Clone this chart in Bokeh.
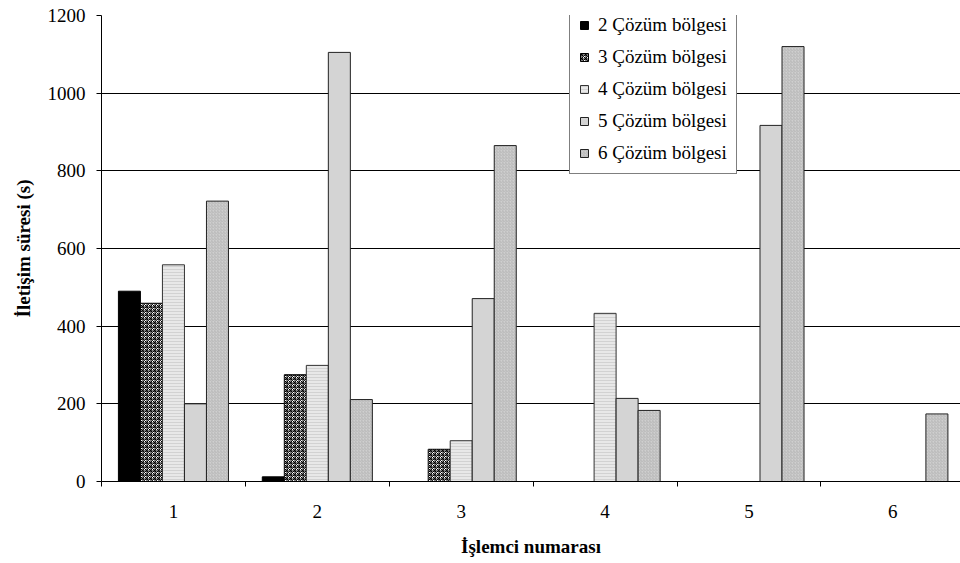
from bokeh.plotting import figure
from bokeh.models import Range1d, FixedTicker, Legend, LegendItem, ColumnDataSource
from bokeh.transform import dodge
from bokeh.embed import file_html
from bokeh.resources import INLINE

# ---- data ----
processors = [1, 2, 3, 4, 5, 6]
tick_labels = ["1", "2", "3", "4", "5", "6"]
s2 = [490, 12, 0, 0, 0, 0]
s3 = [459, 275, 83, 0, 0, 0]
s4 = [558, 299, 105, 433, 0, 0]
s5 = [200, 1105, 471, 214, 917, 0]
s6 = [722, 211, 865, 183, 1120, 174]
series_names = ["2 Çözüm bölgesi", "3 Çözüm bölgesi", "4 Çözüm bölgesi",
                "5 Çözüm bölgesi", "6 Çözüm bölgesi"]
y_ticks = [0, 200, 400, 600, 800, 1000, 1200]

src = ColumnDataSource(dict(x=processors, s2=s2, s3=s3, s4=s4, s5=s5, s6=s6))

FONT = "'Liberation Serif', serif"

p = figure(width=960, height=563, output_backend="svg", toolbar_location=None,
           x_range=Range1d(0.5, 6.47), y_range=Range1d(0, 1200),
           min_border_left=101, min_border_right=0, min_border_top=15,
           min_border_bottom=82)
p.background_fill_color = "white"
p.border_fill_color = "white"
p.outline_line_color = None

bw = 0.153
offsets = [-2 * bw, -bw, 0, bw, 2 * bw]
styles = [
    dict(fill_color="black", line_color="black"),
    dict(fill_color="white", line_color="black", hatch_pattern="criss_cross",
         hatch_color="black", hatch_scale=4, hatch_weight=1),
    dict(fill_color="#e8e8e8", line_color="#333333", hatch_pattern="horizontal_line",
         hatch_color="#d2d2d2", hatch_scale=3, hatch_weight=1),
    dict(fill_color="#d4d4d4", line_color="#222222"),
    dict(fill_color="#cfcfcf", line_color="#222222", hatch_pattern="right_diagonal_line",
         hatch_color="#b8b8b8", hatch_scale=3, hatch_weight=1),
]
fields = ["s2", "s3", "s4", "s5", "s6"]
items = []
for f, off, st, name in zip(fields, offsets, styles, series_names):
    r = p.vbar(x=dodge("x", off), top=f, width=bw, bottom=0, source=src,
               line_width=1, **st)
    items.append(LegendItem(label=name, renderers=[r]))

legend = Legend(items=items, location=(468, 307), border_line_color="black",
                border_line_width=1, background_fill_color="white",
                background_fill_alpha=1, padding=9, spacing=10, margin=0,
                label_height=20, glyph_height=10, glyph_width=10,
                label_standoff=9, label_text_font=FONT,
                label_text_font_size="19px", label_text_color="black")
p.add_layout(legend, "center")

# x axis
p.xaxis.ticker = FixedTicker(ticks=processors,
                             minor_ticks=[0.5, 1.5, 2.5, 3.5, 4.5, 5.5, 6.5])
p.xaxis.major_label_overrides = {k: v for k, v in zip(processors, tick_labels)}
p.xaxis.major_tick_out = 0
p.xaxis.major_tick_in = 0
p.xaxis.minor_tick_out = 5
p.xaxis.minor_tick_in = 0
p.xaxis.minor_tick_line_color = "black"
p.xaxis.axis_line_color = "black"
p.xaxis.major_label_standoff = 18
p.xaxis.axis_label = "İşlemci numarası"
p.xaxis.axis_label_standoff = 15

# y axis
p.yaxis.ticker = FixedTicker(ticks=y_ticks)
p.yaxis.major_tick_out = 5
p.yaxis.major_tick_in = 0
p.yaxis.minor_tick_line_color = None
p.yaxis.axis_line_color = "black"
p.yaxis.major_tick_line_color = "black"
p.yaxis.major_label_standoff = 11
p.yaxis.axis_label = "İletişim süresi (s)"
p.yaxis.axis_label_standoff = 11

for ax in (p.xaxis, p.yaxis):
    ax.major_label_text_font = FONT
    ax.major_label_text_font_size = "19px"
    ax.major_label_text_color = "black"
    ax.axis_label_text_font = FONT
    ax.axis_label_text_font_size = "19px"
    ax.axis_label_text_font_style = "bold"
    ax.axis_label_text_color = "black"

p.xgrid.grid_line_color = None
p.ygrid.ticker = FixedTicker(ticks=y_ticks)
p.ygrid.grid_line_color = "black"
p.ygrid.grid_line_width = 1
p.ygrid.grid_line_alpha = 1

open("out.html", "w").write(file_html(p, INLINE))
